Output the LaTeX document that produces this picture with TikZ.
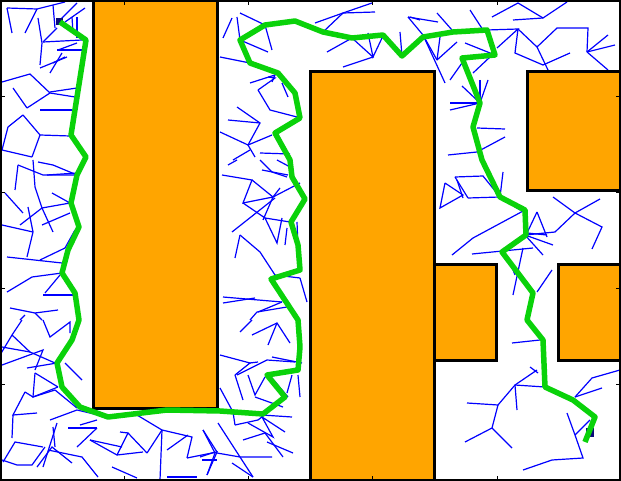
\documentclass[tikz,border=0pt]{standalone}
\definecolor{obst}{RGB}{255,165,0}
\definecolor{treeblue}{RGB}{0,0,255}
\definecolor{pathgreen}{RGB}{10,210,10}
\definecolor{marker}{RGB}{10,10,120}
\tikzset{
  tree/.style={treeblue, line width=1.2pt},
  obstacle/.style={fill=obst, draw=black, line width=3pt},
  solution/.style={pathgreen, line width=5.5pt, line join=round},
  tick/.style={black, line width=0.8pt}
}
\begin{document}
\begin{tikzpicture}[x=1pt,y=-1pt]
\useasboundingbox (0,0) rectangle (621,481);
\fill[white] (0,0) rectangle (621,481);
% ---- tree ----
\draw[tree] (7,8)--(37,9)--(53,5)--(65,2);
\draw[tree] (7,8)--(12,33);
\draw[tree] (37,9)--(25,33);
\draw[tree] (53,5)--(55,28);
\draw[tree] (58,22)--(77,3);
\draw[tree] (65,22)--(85,8);
\draw[tree] (72,17)--(73,33);
\draw[tree] (77,17)--(77,38);
\draw[tree] (38,18)--(42,43)--(40,65);
\draw[tree] (43,42)--(82,40);
\draw[tree] (57,28)--(43,42);
\draw[tree] (57,50)--(85,50);
\draw[tree] (58,50)--(77,43);
\draw[tree] (62,53)--(50,73);
\draw[tree] (40,68)--(67,57);
\draw[tree] (53,63)--(65,57);
\draw[tree] (2,82)--(30,74)--(50,93);
\draw[tree] (13,88)--(27,108);
\draw[tree] (50,92)--(77,88);
\draw[tree] (50,93)--(75,97);
\draw[tree] (27,108)--(50,93);
\draw[tree] (40,110)--(72,110);
\draw[tree] (23,115)--(40,135)--(70,136);
\draw[tree] (8,127)--(23,115);
\draw[tree] (8,127)--(2,150)--(32,157);
\draw[tree] (40,135)--(32,157);
%
\draw[tree] (240,13)--(265,25);
\draw[tree] (232,18)--(223,38);
\draw[tree] (237,17)--(240,40);
\draw[tree] (240,40)--(268,52);
\draw[tree] (265,25)--(272,50);
\draw[tree] (220,57)--(250,63);
\draw[tree] (315,23)--(343,13)--(372,3);
\draw[tree] (343,13)--(375,12);
\draw[tree] (343,13)--(323,32);
\draw[tree] (327,52)--(352,38);
\draw[tree] (352,38)--(373,57)--(343,67);
\draw[tree] (368,33)--(373,57)--(382,38);
\draw[tree] (400,32)--(402,56);
\draw[tree] (410,17)--(420,20);
\draw[tree] (250,83)--(275,75)--(272,82);
\draw[tree] (258,90)--(270,110)--(297,117);
\draw[tree] (268,77)--(275,78)--(258,90);
\draw[tree] (288,97)--(282,83);
\draw[tree] (237,107)--(260,123)--(248,145);
\draw[tree] (228,120)--(260,123);
\draw[tree] (220,132)--(248,145)--(272,135);
\draw[tree] (248,145)--(255,157);
\draw[tree] (260,153)--(290,154);
\draw[tree] (250,150)--(233,160);
%
\draw[tree] (408,17)--(423,35)--(445,83);
\draw[tree] (408,17)--(438,22);
\draw[tree] (437,13)--(452,30);
\draw[tree] (437,60)--(457,42);
\draw[tree] (440,37)--(437,60);
\draw[tree] (423,35)--(437,60);
\draw[tree] (470,10)--(483,30);
\draw[tree] (465,43)--(495,55);
\draw[tree] (473,73)--(490,57);
\draw[tree] (492,17)--(518,3)--(543,18)--(567,2);
\draw[tree] (513,20)--(543,18);
\draw[tree] (487,30)--(518,29)--(497,48);
\draw[tree] (518,29)--(515,53)--(543,65);
\draw[tree] (518,29)--(537,47)--(548,70);
\draw[tree] (537,47)--(557,28)--(588,28)--(587,52);
\draw[tree] (587,52)--(608,35);
\draw[tree] (587,52)--(615,45);
\draw[tree] (587,52)--(608,70);
\draw[tree] (543,65)--(570,53);
\draw[tree] (450,80)--(462,63);
\draw[tree] (450,103)--(480,103);
\draw[tree] (450,110)--(480,103);
\draw[tree] (462,86)--(480,103);
\draw[tree] (480,80)--(480,103);
\draw[tree] (488,80)--(480,103);
\draw[tree] (477,128)--(505,129);
\draw[tree] (448,155)--(477,152)--(505,137);
%
\draw[tree] (18,165)--(43,175)--(77,175);
\draw[tree] (18,165)--(15,190);
\draw[tree] (33,160)--(35,187)--(42,208);
\draw[tree] (47,175)--(77,173);
\draw[tree] (38,162)--(53,165)--(77,175);
\draw[tree] (5,193)--(23,213);
\draw[tree] (52,193)--(70,203)--(42,208);
\draw[tree] (42,208)--(53,232);
\draw[tree] (42,208)--(20,225);
\draw[tree] (28,207)--(33,232)--(27,257);
\draw[tree] (2,225)--(33,232);
\draw[tree] (42,225)--(70,213);
\draw[tree] (40,260)--(65,248)--(75,230);
\draw[tree] (7,257)--(62,263);
\draw[tree] (7,292)--(32,277)--(62,273);
\draw[tree] (43,295)--(78,295);
\draw[tree] (45,293)--(60,275);
\draw[tree] (10,308)--(35,313)--(58,310);
\draw[tree] (35,313)--(42,320);
\draw[tree] (25,315)--(20,320);
%
\draw[tree] (228,165)--(237,160);
\draw[tree] (222,175)--(252,180)--(243,203)--(273,197);
\draw[tree] (252,180)--(273,197);
\draw[tree] (260,160)--(272,172)--(287,177);
\draw[tree] (262,170)--(288,175);
\draw[tree] (273,197)--(263,220);
\draw[tree] (273,197)--(300,183);
\draw[tree] (273,197)--(280,188);
\draw[tree] (277,160)--(292,168);
\draw[tree] (243,203)--(265,218)--(277,243)--(282,218);
\draw[tree] (265,218)--(290,222);
\draw[tree] (232,232)--(275,198);
\draw[tree] (240,235)--(235,258);
\draw[tree] (240,235)--(260,252)--(275,275)--(300,278);
\draw[tree] (300,278)--(307,302);
\draw[tree] (285,245)--(287,228);
\draw[tree] (297,222)--(298,247);
\draw[tree] (223,297)--(282,302);
\draw[tree] (223,303)--(255,298);
\draw[tree] (257,312)--(287,307);
\draw[tree] (257,312)--(250,320);
\draw[tree] (282,302)--(258,312);
%
\draw[tree] (445,183)--(440,208)--(463,195)--(445,183);
\draw[tree] (455,177)--(483,176)--(500,197);
\draw[tree] (455,177)--(468,198);
\draw[tree] (457,180)--(463,198);
\draw[tree] (468,198)--(500,197);
\draw[tree] (503,172)--(500,197);
\draw[tree] (500,197)--(520,210);
\draw[tree] (452,255)--(473,238)--(525,210);
\draw[tree] (537,212)--(527,233)--(547,235);
\draw[tree] (537,212)--(547,237);
\draw[tree] (525,235)--(555,232)--(575,213)--(553,197);
\draw[tree] (575,213)--(600,199);
\draw[tree] (575,213)--(602,227)--(592,249);
\draw[tree] (525,235)--(543,255);
\draw[tree] (525,235)--(553,245);
\draw[tree] (472,254)--(533,248);
\draw[tree] (523,248)--(513,295);
\draw[tree] (508,257)--(515,275);
\draw[tree] (537,292)--(552,270);
%
\draw[tree] (22,320)--(12,335)--(0,355);
\draw[tree] (43,320)--(50,337)--(70,322)--(70,333);
\draw[tree] (12,335)--(30,352)--(55,363);
\draw[tree] (2,347)--(30,352);
\draw[tree] (2,365)--(43,350)--(35,370);
\draw[tree] (27,368)--(57,363);
\draw[tree] (65,363)--(82,380);
\draw[tree] (35,373)--(33,397)--(55,390);
\draw[tree] (33,397)--(58,387);
\draw[tree] (55,390)--(77,408);
\draw[tree] (35,373)--(58,387);
\draw[tree] (25,392)--(13,415)--(37,413);
\draw[tree] (25,392)--(33,397);
\draw[tree] (13,415)--(12,438);
\draw[tree] (50,420)--(77,410)--(107,417);
\draw[tree] (80,425)--(97,420);
\draw[tree] (53,427)--(55,447);
\draw[tree] (3,462)--(15,442)--(43,447);
\draw[tree] (2,460)--(17,465)--(32,465)--(45,447);
\draw[tree] (57,423)--(43,467);
\draw[tree] (68,428)--(97,428);
\draw[tree] (77,447)--(97,428);
\draw[tree] (48,450)--(82,457)--(98,477);
\draw[tree] (37,467)--(52,447)--(72,463);
\draw[tree] (90,440)--(117,455)--(143,452);
\draw[tree] (90,440)--(122,447);
\draw[tree] (117,455)--(128,433)--(147,453);
\draw[tree] (128,433)--(120,432);
\draw[tree] (147,453)--(162,430)--(192,437)--(187,458);
\draw[tree] (162,430)--(160,480);
\draw[tree] (167,450)--(188,435);
\draw[tree] (137,415)--(162,430);
\draw[tree] (112,467)--(137,478);
\draw[tree] (187,458)--(217,452)--(207,475);
\draw[tree] (203,430)--(217,452);
\draw[tree] (167,477)--(197,477);
%
\draw[tree] (240,332)--(252,320);
\draw[tree] (252,335)--(277,323)--(290,343);
\draw[tree] (277,323)--(268,345);
\draw[tree] (220,355)--(250,363)--(235,375);
\draw[tree] (235,375)--(243,400);
\draw[tree] (250,363)--(258,362);
\draw[tree] (272,357)--(302,363);
\draw[tree] (237,375)--(267,360)--(295,362);
\draw[tree] (248,375)--(255,395)--(265,377);
\draw[tree] (255,397)--(283,407);
\draw[tree] (272,378)--(288,397);
\draw[tree] (298,375)--(300,397);
\draw[tree] (292,375)--(287,393);
\draw[tree] (220,388)--(233,412)--(235,425);
\draw[tree] (235,425)--(258,420)--(267,413);
\draw[tree] (248,423)--(273,437)--(262,417)--(285,432);
\draw[tree] (243,440)--(265,433);
\draw[tree] (265,433)--(283,457);
\draw[tree] (267,442)--(293,453);
\draw[tree] (262,415)--(292,417);
\draw[tree] (203,430)--(215,453)--(207,475);
\draw[tree] (200,457)--(215,452);
\draw[tree] (202,460)--(217,460);
\draw[tree] (217,453)--(240,457)--(272,457);
\draw[tree] (240,457)--(253,477);
\draw[tree] (232,463)--(253,477);
\draw[tree] (240,457)--(218,423);
%
\draw[tree] (512,343)--(540,340);
\draw[tree] (467,403)--(498,405)--(515,385)--(545,387);
\draw[tree] (515,385)--(517,410);
\draw[tree] (515,385)--(537,370);
\draw[tree] (530,367)--(538,373);
\draw[tree] (498,405)--(492,428)--(465,442);
\draw[tree] (492,428)--(512,448);
\draw[tree] (575,397)--(592,378)--(620,370);
\draw[tree] (575,397)--(602,388);
\draw[tree] (567,413)--(575,435)--(583,458)--(552,460)--(523,470);
\draw[tree] (575,435)--(590,420);
% ---- obstacles ----
\draw[obstacle] (93,-2) rectangle (217,408);
\draw[obstacle] (310,72) rectangle (434,483);
\draw[obstacle] (527,72) rectangle (623,191);
\draw[obstacle] (434,264) rectangle (496,360);
\draw[obstacle] (558,264) rectangle (623,360);
% ---- start and goal markers ----
\fill[marker] (56,18) rectangle (63,25);
\fill[marker] (586,428) rectangle (594,437);
% ---- solution path ----
\draw[solution] (60,22)--(86,40)--(71,135)--(86,157)--(77,175)--(71,203)--(79,227)--(68,250)--(62,273)--(75,293)--(79,320)--(72,340)--(57,363)--(62,387)--(80,407)--(108,417)--(167,410)--(220,411)--(263,414)--(285,397)--(267,375)--(298,370)--(300,347)--(298,320)--(271,279)--(300,270)--(298,245)--(291,222)--(305,199)--(292,177)--(290,160)--(275,133)--(300,118)--(295,93)--(278,73)--(250,63)--(240,40)--(265,25)--(295,21)--(323,32)--(352,38)--(383,35)--(402,56)--(423,37)--(453,32)--(487,30)--(495,55)--(462,58)--(480,103)--(473,127)--(482,160)--(500,197)--(525,210)--(526,235)--(502,252)--(533,293)--(527,320)--(543,340)--(545,387)--(573,400)--(595,417)--(585,442);
% ---- frame and ticks ----
\foreach \tx in {124,248,372,497} {
  \draw[tick] (\tx,0)--(\tx,5);
  \draw[tick] (\tx,481)--(\tx,476);
}
\foreach \ty in {96,192,288,384} {
  \draw[tick] (0,\ty)--(5,\ty);
  \draw[tick] (621,\ty)--(616,\ty);
}
\draw[black, line width=2pt] (1,1) rectangle (620,480);
\end{tikzpicture}
\end{document}
